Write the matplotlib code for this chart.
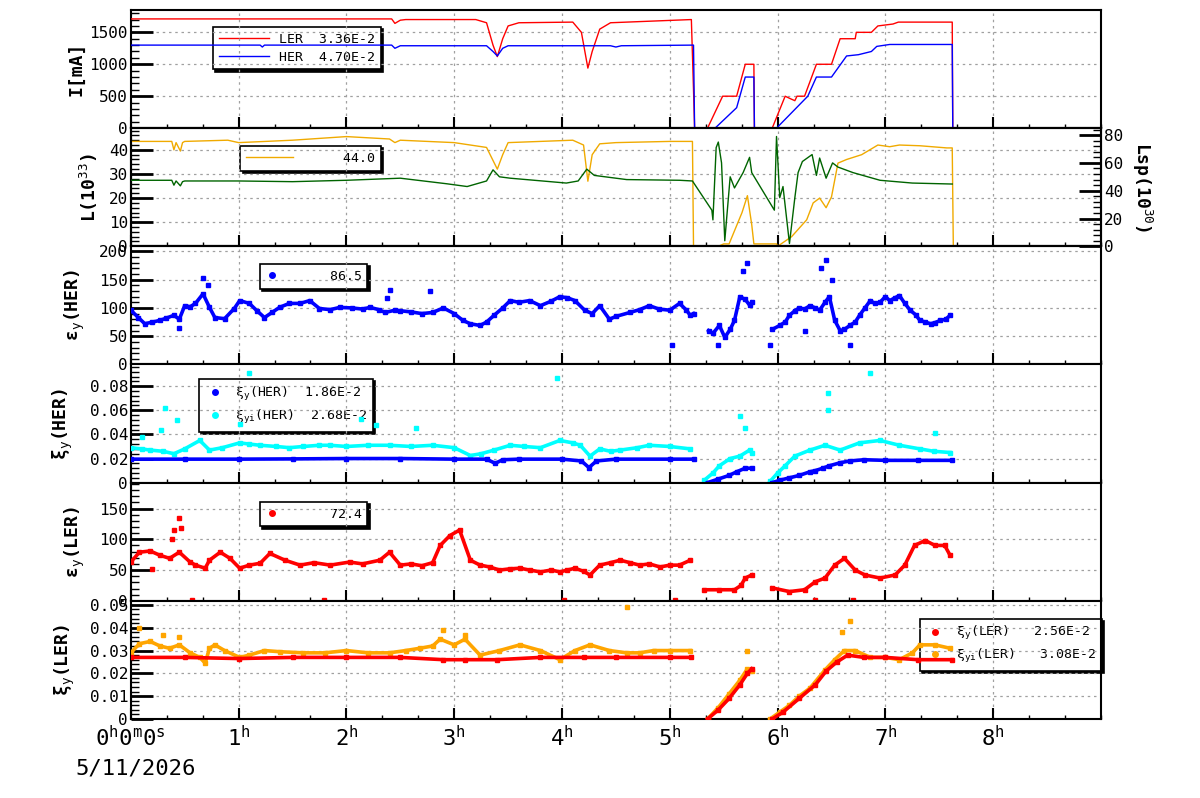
import matplotlib
matplotlib.use("Agg")
import matplotlib.pyplot as plt
from matplotlib.ticker import MultipleLocator, AutoMinorLocator, FuncFormatter
import numpy as np

nan = np.nan

# ---- data (time in hours) ----
# beam currents [mA]
ler_t = [0, 2.42, 2.45, 2.5, 2.55, 3.2, 3.3, 3.36, 3.4, 3.45, 3.5, 3.6, 4.1, 4.18, 4.24, 4.28,
         4.35, 4.45, 5.2, 5.22, 5.23, 5.35, 5.42, 5.49, 5.62, 5.7, 5.78, 5.785, 5.95, 6.07, 6.12,
         6.16, 6.18, 6.25, 6.36, 6.5, 6.58, 6.72, 6.73, 6.87, 6.93, 7.07, 7.12, 7.62, 7.625, 9.0]
ler_i = [1710, 1710, 1640, 1690, 1700, 1700, 1650, 1300, 1120, 1400, 1600, 1650, 1660, 1500, 940, 1200,
         1550, 1650, 1700, 600, 0, 0, 250, 500, 500, 1000, 1000, 0, 0, 500, 460,
         430, 500, 500, 1000, 1000, 1400, 1400, 1500, 1500, 1600, 1630, 1660, 1660, 0, 0]
her_t = [0, 1.2, 1.22, 1.24, 2.42, 2.45, 2.5, 3.3, 3.36, 3.4, 3.45, 3.5, 4.45, 4.5, 4.55, 5.22,
         5.23, 5.42, 5.62, 5.7, 5.78, 5.785, 5.99, 6.28, 6.36, 6.5, 6.64, 6.75, 6.87, 6.92, 7.04,
         7.62, 7.625, 8.9]
her_i = [1300, 1300, 1270, 1300, 1300, 1250, 1290, 1290, 1200, 1130, 1250, 1290, 1290, 1270, 1290, 1300,
         0, 0, 320, 800, 800, 0, 0, 500, 800, 800, 1130, 1150, 1200, 1280, 1310,
         1310, 0, 0]

# luminosity L (10^33) and specific luminosity Lsp (10^30)
lum_t = [0, 0.38, 0.4, 0.42, 0.46, 0.48, 0.5, 0.9, 1.0, 1.5, 2.0, 2.4, 2.45, 2.5, 3.0, 3.15,
         3.3, 3.4, 3.45, 3.5, 3.8, 4.1, 4.2, 4.24, 4.28, 4.35, 4.5, 5.0, 5.21, 5.22, 5.45, 5.5,
         5.55, 5.67, 5.72, 5.76, 5.78, 5.99, 6.0, 6.13, 6.27, 6.33, 6.39, 6.45, 6.5, 6.56, 6.64,
         6.78, 6.93, 7.04, 7.13, 7.32, 7.57, 7.62, 7.63]
lum_v = [43.5, 43.5, 40, 43, 39.5, 43, 43.5, 44, 43, 44, 45.5, 44.5, 43, 44, 43, 42,
         41, 32, 38, 43, 43.5, 44, 42, 27, 38, 42.5, 43, 43.5, 43.5, 0, 0, 1,
         1, 14, 21, 9, 1, 1, 0, 4, 11, 18, 20, 16, 20.5, 34.5, 36,
         38, 42, 41.3, 42, 41.7, 40.8, 40.8, 0]
lsp_t = [0, 0.38, 0.4, 0.42, 0.46, 0.48, 0.5, 1.0, 1.5, 2.0, 2.5, 2.93, 3.12, 3.3, 3.36, 3.42,
         3.52, 4.04, 4.15, 4.23, 4.3, 4.6, 5.09, 5.21, 5.39, 5.40, 5.43, 5.45, 5.48, 5.51, 5.56,
         5.6, 5.68, 5.74, 5.76, 5.97, 5.99, 6.02, 6.05, 6.11, 6.16, 6.19, 6.23, 6.32, 6.36, 6.39,
         6.45, 6.51, 6.56, 6.7, 6.95, 7.25, 7.62]
lsp_v = [47.5, 47.5, 44, 47, 43.5, 46.5, 47, 47, 46.5, 47.5, 49, 45, 43, 47, 55, 50,
         49, 45.5, 47, 55.5, 51, 48, 47.5, 47, 26, 19, 71, 75, 60, 4, 50,
         42, 53, 64, 53, 26, 79, 35, 43, 2, 35, 53, 61, 66, 51, 63.5,
         49, 60, 57, 53, 47.5, 45.5, 44.8]

# vertical emittance HER
eh_t = [0.0, 0.07, 0.13, 0.2, 0.27, 0.33, 0.4, 0.45, 0.5, 0.55, 0.6, 0.67, 0.73, 0.78, 0.87, 0.96,
        1.01, 1.1, 1.17, 1.24, 1.31, 1.38, 1.47, 1.57, 1.66, 1.75, 1.85, 1.94, 2.05, 2.15, 2.22,
        2.3, 2.36, 2.45, 2.5, 2.6, 2.7, 2.8, 2.9, 3.0, 3.08, 3.15, 3.24, 3.3, 3.37, 3.45, 3.52,
        3.6, 3.7, 3.8, 3.9, 3.98, 4.05, 4.12, 4.21, 4.28, 4.35, 4.44, 4.5, 4.63, 4.72, 4.81,
        4.9, 5.0, 5.09, 5.15, 5.19, 5.22, 5.3,
        5.36, 5.4, 5.46, 5.51, 5.56, 5.6, 5.65, 5.7, 5.74, 5.76, 5.85,
        5.95, 6.02, 6.07, 6.11, 6.16, 6.2, 6.25, 6.3, 6.35, 6.39, 6.44, 6.48, 6.53, 6.58, 6.62,
        6.67, 6.72, 6.76, 6.81, 6.86, 6.9, 6.95, 7.0, 7.04, 7.09, 7.13, 7.18, 7.23, 7.28, 7.32,
        7.37, 7.42, 7.46, 7.51, 7.56, 7.6]
eh_v = [96, 83, 72, 75, 78, 82, 87, 80, 104, 102, 108, 125, 101, 83, 81, 99,
        113, 108, 95, 83, 92, 101, 108, 108, 113, 99, 97, 101, 100, 98, 101,
        97, 92, 96, 95, 93, 90, 92, 100, 90, 78, 72, 69, 75, 87, 100, 113,
        110, 113, 104, 112, 120, 118, 113, 96, 90, 104, 80, 85, 92, 97, 104,
        98, 96, 108, 97, 87, 90, nan,
        60, 55, 69, 48, 62, 78, 120, 115, 105, 110, nan,
        62, 69, 75, 87, 95, 100, 98, 104, 100, 96, 110, 120, 78, 60, 62,
        69, 75, 87, 100, 113, 108, 110, 120, 113, 118, 122, 108, 96, 88, 78,
        75, 72, 74, 78, 80, 87]
eh_out_t = [0.45, 0.67, 0.72, 2.38, 2.4, 2.78, 5.02, 5.45, 5.68, 5.72, 5.93, 6.25, 6.4, 6.45, 6.5, 6.67]
eh_out_v = [65, 153, 140, 118, 131, 130, 34, 35, 165, 180, 34, 60, 170, 184, 150, 34]

# beam-beam parameter HER
xh_t = [0, 0.5, 1.0, 1.5, 2.0, 2.5, 3.0, 3.3, 3.38, 3.45, 3.6, 4.0, 4.18, 4.25, 4.32, 4.5, 5.0, 5.22, 5.3,
        5.35, 5.45, 5.55, 5.62, 5.7, 5.76, 5.85,
        5.95, 6.02, 6.11, 6.2, 6.3, 6.35, 6.42, 6.48, 6.58, 6.67, 6.8, 7.0, 7.3, 7.62]
xh_v = [0.0195, 0.0195, 0.0195, 0.0197, 0.020, 0.020, 0.0195, 0.0195, 0.016, 0.019, 0.0195, 0.0195,
        0.018, 0.0125, 0.018, 0.0195, 0.0195, 0.0195, nan,
        0.0, 0.003, 0.006, 0.009, 0.012, 0.012, nan,
        0.0, 0.002, 0.004, 0.006, 0.009, 0.010, 0.012, 0.014, 0.0165, 0.018, 0.019, 0.0185, 0.0185, 0.0185]
xhi_t = [0, 0.1, 0.18, 0.3, 0.4, 0.5, 0.64, 0.73, 0.85, 1.01, 1.1, 1.2, 1.35, 1.47, 1.6, 1.75,
         1.85, 2.0, 2.2, 2.4, 2.6, 2.8, 3.0, 3.15, 3.25, 3.37, 3.52, 3.65, 3.8, 3.98, 4.1, 4.17,
         4.26, 4.35, 4.45, 4.54, 4.7, 4.81, 5.0, 5.19, 5.26,
         5.32, 5.4, 5.46, 5.56, 5.65, 5.74, 5.76, 5.85,
         5.93, 6.0, 6.07, 6.16, 6.3, 6.44, 6.58, 6.76, 6.95, 7.13, 7.32, 7.45, 7.6]
xhi_v = [0.029, 0.028, 0.027, 0.026, 0.024, 0.028, 0.035, 0.027, 0.029, 0.033, 0.032, 0.031, 0.030,
         0.029, 0.030, 0.031, 0.031, 0.030, 0.031, 0.031, 0.030, 0.031, 0.029, 0.0225, 0.024, 0.027,
         0.031, 0.030, 0.029, 0.035, 0.033, 0.031, 0.022, 0.028, 0.026, 0.027, 0.029, 0.031, 0.030,
         0.028, nan,
         0.002, 0.008, 0.014, 0.020, 0.022, 0.027, 0.025, nan,
         0.001, 0.008, 0.014, 0.022, 0.027, 0.031, 0.027, 0.033, 0.035, 0.031, 0.028, 0.026, 0.025]
xhi_out_t = [0.1, 0.28, 0.32, 0.43, 1.01, 1.1, 2.14, 2.27, 2.65, 3.95, 5.65, 5.7, 6.47, 6.47, 6.86, 7.46]
xhi_out_v = [0.038, 0.044, 0.062, 0.052, 0.049, 0.091, 0.053, 0.048, 0.045, 0.087, 0.055, 0.045,
             0.074, 0.060, 0.091, 0.041]

# vertical emittance LER
el_t = [0, 0.08, 0.18, 0.27, 0.36, 0.45, 0.55, 0.6, 0.69, 0.73, 0.83, 0.92, 1.01, 1.1, 1.2, 1.29,
        1.43, 1.57, 1.7, 1.85, 2.03, 2.15, 2.31, 2.4, 2.5, 2.6, 2.7, 2.8, 2.87, 2.96, 3.05, 3.15,
        3.24, 3.33, 3.42, 3.52, 3.61, 3.7, 3.8, 3.9, 3.98, 4.05, 4.12, 4.2, 4.26, 4.35, 4.45, 4.54,
        4.63, 4.72, 4.81, 4.91, 5.0, 5.09, 5.19, 5.26,
        5.32, 5.46, 5.6, 5.66, 5.7, 5.76, 5.85,
        5.95, 6.11, 6.25, 6.35, 6.44, 6.53, 6.62, 6.72, 6.81, 6.95, 7.09, 7.18, 7.27, 7.37, 7.46,
        7.55, 7.6]
el_v = [63, 79, 81, 74, 69, 79, 63, 58, 53, 66, 79, 69, 53, 58, 61, 77,
        66, 58, 62, 58, 63, 60, 66, 79, 58, 60, 57, 62, 90, 106, 115, 66,
        58, 55, 50, 52, 53, 50, 47, 50, 47, 50, 53, 48, 42, 58, 62, 66,
        62, 58, 60, 55, 58, 58, 66, nan,
        18, 18, 18, 25, 37, 42, nan,
        21, 15, 18, 31, 37, 58, 69, 50, 42, 37, 42, 58, 90, 98, 90,
        90, 74]
el_out_t = [0.2, 0.38, 0.4, 0.45, 0.47, 0.57, 1.79, 4.02, 5.05, 6.35, 6.7]
el_out_v = [52, 100, 115, 134, 118, 2, 2, 2, 2, 2, 2]

# beam-beam parameter LER
xl_t = [0, 0.5, 1.0, 1.5, 2.0, 2.5, 2.9, 3.1, 3.4, 3.8, 4.2, 4.5, 5.0, 5.2, 5.28,
        5.35, 5.45, 5.55, 5.65, 5.72, 5.76, 5.85,
        5.95, 6.05, 6.2, 6.35, 6.45, 6.55, 6.65, 6.8, 7.0, 7.3, 7.62]
xl_v = [0.027, 0.027, 0.0265, 0.027, 0.027, 0.027, 0.026, 0.026, 0.026, 0.027, 0.027, 0.027, 0.027,
        0.027, nan,
        0.0, 0.004, 0.009, 0.015, 0.020, 0.022, nan,
        0.0, 0.003, 0.009, 0.015, 0.021, 0.025, 0.028, 0.027, 0.027, 0.026, 0.026]
xli_t = [0, 0.08, 0.18, 0.27, 0.36, 0.45, 0.55, 0.64, 0.69, 0.73, 0.78, 0.87, 1.01, 1.1, 1.24,
         1.38, 1.6, 1.8, 2.0, 2.2, 2.4, 2.55, 2.68, 2.8, 2.87, 3.0, 3.1, 3.24, 3.42, 3.61, 3.8,
         3.98, 4.12, 4.26, 4.44, 4.6, 4.72, 4.85, 5.0, 5.19, 5.28,
         5.35, 5.45, 5.55, 5.65, 5.72, 5.76, 5.85,
         5.93, 6.02, 6.11, 6.2, 6.3, 6.44, 6.53, 6.62, 6.72, 6.86, 7.0, 7.13, 7.25, 7.32, 7.46, 7.6]
xli_v = [0.029, 0.033, 0.034, 0.032, 0.031, 0.0325, 0.029, 0.027, 0.0245, 0.031, 0.0325, 0.030,
         0.027, 0.028, 0.030, 0.0295, 0.029, 0.029, 0.030, 0.029, 0.029, 0.030, 0.031, 0.032,
         0.035, 0.0325, 0.035, 0.028, 0.030, 0.0325, 0.030, 0.026, 0.030, 0.0325, 0.030, 0.029,
         0.029, 0.030, 0.030, 0.030, nan,
         0.0, 0.005, 0.011, 0.017, 0.022, 0.021, nan,
         0.0, 0.003, 0.006, 0.010, 0.0135, 0.0215, 0.026, 0.030, 0.030, 0.027, 0.027, 0.026,
         0.029, 0.0325, 0.0325, 0.031]
xli_out_t = [0.08, 0.3, 0.45, 2.9, 3.1, 4.6, 5.72, 6.6, 6.67]
xli_out_v = [0.040, 0.037, 0.036, 0.039, 0.037, 0.049, 0.030, 0.038, 0.043]

hour_labels = ["0$^\\mathrm{h}$0$^\\mathrm{m}$0$^\\mathrm{s}$"] + ["%d$^\\mathrm{h}$" % h for h in range(1, 9)]
date_label = "5/11/2026"

# ---- style ----
plt.rcParams["font.family"] = ["DejaVu Sans Mono", "DejaVu Sans"]
plt.rcParams["mathtext.fontset"] = "custom"
plt.rcParams["mathtext.rm"] = "DejaVu Sans Mono"
plt.rcParams["mathtext.it"] = "DejaVu Sans Mono"

RED, BLUE, CYAN = "#ff0000", "#0000ff", "#00ffff"
ORANGE_L, GREEN, ORANGE = "#f0aa00", "#006400", "#ffa500"

fig, axes = plt.subplots(6, 1, sharex=True, figsize=(12, 7.98), dpi=100,
                         gridspec_kw=dict(hspace=0))
fig.subplots_adjust(left=0.109, right=0.9175, top=0.9875, bottom=0.099)


def fmt(v, pos):
    return "0" if v == 0 else "%g" % v


def style(ax, ymax, major, label, label_x):
    ax.set_xlim(0, 9)
    ax.set_ylim(0, ymax)
    ax.xaxis.set_major_locator(MultipleLocator(1))
    ax.xaxis.set_minor_locator(MultipleLocator(1 / 3))
    ax.yaxis.set_major_locator(MultipleLocator(major))
    ax.yaxis.set_minor_locator(AutoMinorLocator(5))
    ax.yaxis.set_major_formatter(FuncFormatter(fmt))
    ax.tick_params(axis="x", which="major", direction="in", length=8, width=1.5, top=False,
                   labelsize=16, pad=4)
    ax.tick_params(axis="x", which="minor", direction="in", length=3, width=1, top=False)
    ax.tick_params(axis="y", which="major", direction="in", length=16, width=2, right=False,
                   labelsize=11.5, pad=2)
    ax.tick_params(axis="y", which="minor", direction="in", length=6, width=1, right=False)
    ax.grid(True, which="major", color="#a0a0a0", ls=(0, (2, 3)), lw=0.9)
    for s in ax.spines.values():
        s.set_linewidth(1.5)
    ax.set_ylabel(label, fontsize=13, fontweight="bold")
    ax.yaxis.set_label_coords(label_x, 0.5)


def legend(ax, handles, labels, x0, ytop, **kw):
    leg = ax.legend(handles, labels, loc="upper left", bbox_to_anchor=(x0, ytop),
                    borderaxespad=0, fancybox=False, framealpha=1, edgecolor="black",
                    fontsize=9.5, shadow={"color": "black", "alpha": 1, "ox": 1.5, "oy": -1.5},
                    borderpad=0.45, labelspacing=0.35, **kw)
    leg.get_frame().set_linewidth(1.2)
    leg.set_zorder(1)
    return leg


def band(ax, t, v, color, z=3):
    return ax.plot(t, v, color=color, lw=2.6, marker="s", ms=2.5, mec=color, zorder=z)[0]


# panel 1: currents
ax = axes[0]
style(ax, 1850, 500, "I[mA]", -0.047)
l1, = ax.plot(ler_t, ler_i, color=RED, lw=1, zorder=3)
l2, = ax.plot(her_t, her_i, color=BLUE, lw=1, zorder=3)
legend(ax, [l1, l2], ["LER  3.36E-2", "HER  4.70E-2"], 0.0845, 0.856, handlelength=3.8)

# panel 2: luminosity
ax = axes[1]
style(ax, 49, 10, "L(10$^{33}$)", -0.032)
lo, = ax.plot(lum_t, lum_v, color=ORANGE_L, lw=1, zorder=3)
ax2 = ax.twinx()
ax2.set_ylim(0, 85)
ax2.yaxis.set_major_locator(MultipleLocator(20))
ax2.yaxis.set_minor_locator(AutoMinorLocator(5))
ax2.yaxis.set_major_formatter(FuncFormatter(fmt))
ax2.tick_params(axis="y", which="major", direction="in", length=16, width=2, labelsize=11.5, pad=2)
ax2.tick_params(axis="y", which="minor", direction="in", length=6, width=1)
ax2.plot(lsp_t, lsp_v, color=GREEN, lw=1, zorder=3)
ax2.set_ylabel("Lsp(10$^{30}$)", fontsize=13, fontweight="bold", rotation=-90, va="center")
ax2.yaxis.set_label_coords(1.042, 0.5)
for s in ax2.spines.values():
    s.set_linewidth(1.5)
legend(ax, [lo], ["     44.0"], 0.113, 0.85, handlelength=3.5)

# panel 3: emittance HER
ax = axes[2]
style(ax, 209, 50, "ε$_\\mathrm{y}$(HER)", -0.045)
band(ax, eh_t, eh_v, BLUE)
ax.plot(eh_out_t, eh_out_v, ls="none", marker="s", ms=2.5, color=BLUE, zorder=3)
legend(ax, [plt.Line2D([], [], ls="none", marker="o", ms=4, color=BLUE)], ["     86.5"],
       0.133, 0.85, handlelength=1)

# panel 4: beam-beam HER
ax = axes[3]
style(ax, 0.098, 0.02, "ξ$_\\mathrm{y}$(HER)", -0.058)
band(ax, xhi_t, xhi_v, CYAN, z=3)
ax.plot(xhi_out_t, xhi_out_v, ls="none", marker="s", ms=2.5, color=CYAN, zorder=3)
band(ax, xh_t, xh_v, BLUE, z=4)
legend(ax, [plt.Line2D([], [], ls="none", marker="o", ms=4, color=BLUE),
            plt.Line2D([], [], ls="none", marker="o", ms=4, color=CYAN)],
       ["ξ$_\\mathrm{y}$(HER)  1.86E-2", "ξ$_\\mathrm{yi}$(HER)  2.68E-2"],
       0.07, 0.875, handlelength=1.5)

# panel 5: emittance LER
ax = axes[4]
style(ax, 192, 50, "ε$_\\mathrm{y}$(LER)", -0.045)
band(ax, el_t, el_v, RED)
ax.plot(el_out_t, el_out_v, ls="none", marker="s", ms=2.5, color=RED, zorder=3)
legend(ax, [plt.Line2D([], [], ls="none", marker="o", ms=4, color=RED)], ["     72.4"],
       0.133, 0.84, handlelength=1)

# panel 6: beam-beam LER
ax = axes[5]
style(ax, 0.0518, 0.01, "ξ$_\\mathrm{y}$(LER)", -0.055)
band(ax, xl_t, xl_v, RED, z=4)
band(ax, xli_t, xli_v, ORANGE, z=3)
ax.plot(xli_out_t, xli_out_v, ls="none", marker="s", ms=2.5, color=ORANGE, zorder=3)
legend(ax, [plt.Line2D([], [], ls="none", marker="o", ms=4, color=RED),
            plt.Line2D([], [], ls="none", marker="o", ms=4, color=ORANGE)],
       ["ξ$_\\mathrm{y}$(LER)   2.56E-2", "ξ$_\\mathrm{yi}$(LER)   3.08E-2"],
       0.813, 0.85, handlelength=1.5)
ax.set_xticks(range(9))
ax.set_xticklabels(hour_labels)

fig.text(75 / 1200, 1 - 768 / 798, date_label, fontsize=16, va="center", ha="left")

fig.savefig("out.png", dpi=100)
